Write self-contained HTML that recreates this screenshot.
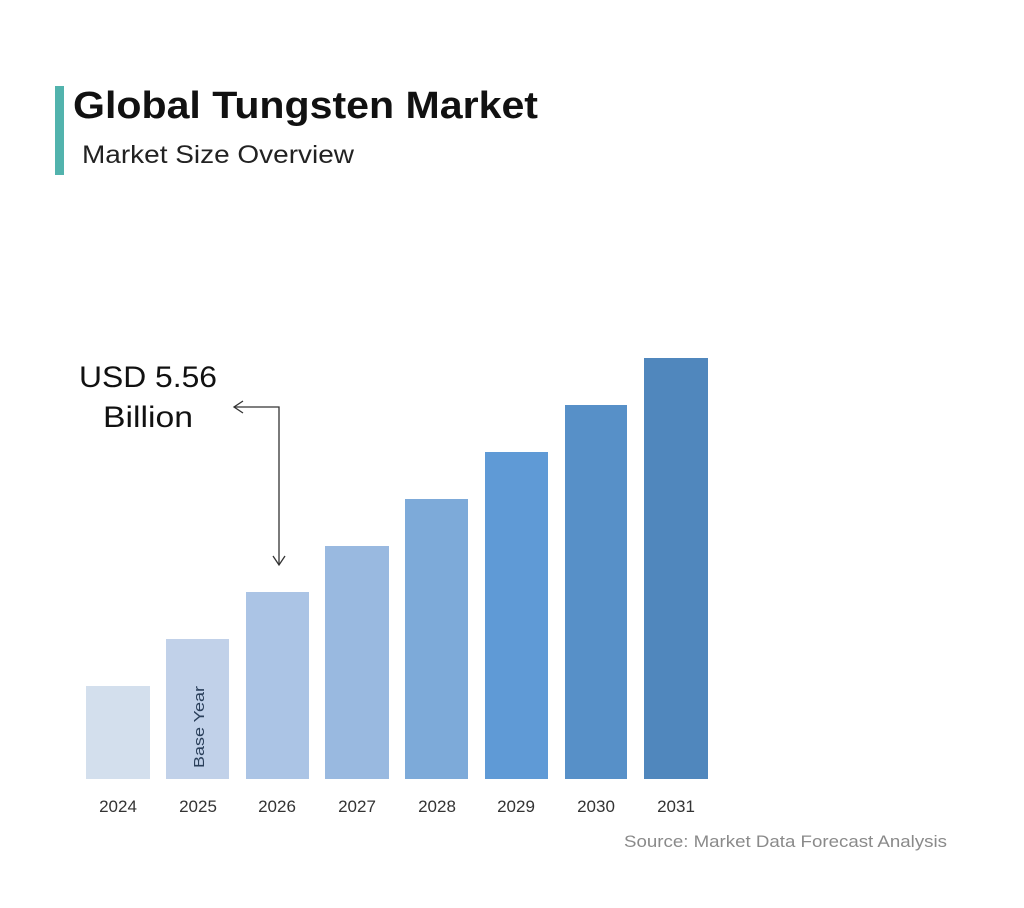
<!DOCTYPE html>
<html><head><meta charset="utf-8"><style>
html,body{margin:0;padding:0;background:#fff;}
body{width:1024px;height:903px;overflow:hidden;font-family:"Liberation Sans",sans-serif;}
</style></head><body>
<svg width="1024" height="903" xmlns="http://www.w3.org/2000/svg" font-family="Liberation Sans, sans-serif">
<rect x="0" y="0" width="1024" height="903" fill="#fff"/>
<rect x="55" y="86" width="9" height="89" fill="#52b3ad"/>
<text x="73" y="118" font-size="38" font-weight="bold" fill="#111" textLength="465" lengthAdjust="spacingAndGlyphs">Global Tungsten Market</text>
<text x="82" y="163" font-size="25" fill="#222" textLength="272" lengthAdjust="spacingAndGlyphs">Market Size Overview</text>

<rect x="86" y="686" width="64" height="93" fill="#d3dfed"/>
<rect x="166" y="639" width="63" height="140" fill="#c1d1e9"/>
<rect x="246" y="592" width="63" height="187" fill="#abc4e5"/>
<rect x="325" y="546" width="64" height="233" fill="#99b9e0"/>
<rect x="405" y="499" width="63" height="280" fill="#7daad9"/>
<rect x="485" y="452" width="63" height="327" fill="#5f9ad6"/>
<rect x="565" y="405" width="62" height="374" fill="#5790c8"/>
<rect x="644" y="358" width="64" height="421" fill="#5087bd"/>

<text transform="translate(204,768) rotate(-90)" font-size="15" fill="#2a3f5a" textLength="82" lengthAdjust="spacingAndGlyphs">Base Year</text>

<text x="79" y="387" font-size="30" fill="#111" textLength="138" lengthAdjust="spacingAndGlyphs">USD 5.56</text>
<text x="103" y="427" font-size="30" fill="#111" textLength="90" lengthAdjust="spacingAndGlyphs">Billion</text>
<polyline points="234,407 279,407 279,565" fill="none" stroke="#333" stroke-width="1.3"/>
<polyline points="243,401 234,407 243,413" fill="none" stroke="#333" stroke-width="1.3"/>
<polyline points="273,556 279,565 285,556" fill="none" stroke="#333" stroke-width="1.3"/>

<g font-size="17" fill="#333" text-anchor="middle">
<text x="118" y="812">2024</text>
<text x="198" y="812">2025</text>
<text x="277" y="812">2026</text>
<text x="357" y="812">2027</text>
<text x="437" y="812">2028</text>
<text x="516" y="812">2029</text>
<text x="596" y="812">2030</text>
<text x="676" y="812">2031</text>
</g>
<text x="624" y="847" font-size="17" fill="#8a8a8a" textLength="323" lengthAdjust="spacingAndGlyphs">Source: Market Data Forecast Analysis</text>
</svg>
</body></html>
